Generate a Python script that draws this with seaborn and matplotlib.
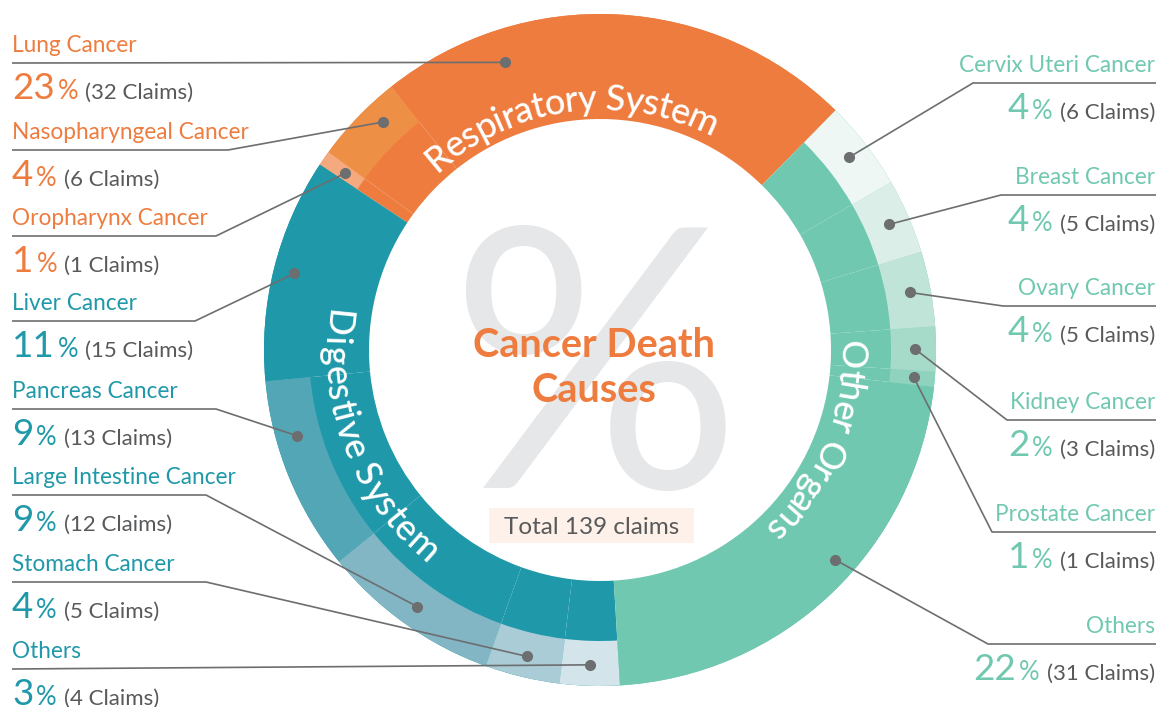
import matplotlib
matplotlib.use("Agg")
import matplotlib.pyplot as plt
from matplotlib.patches import Rectangle
import seaborn as sns
import numpy as np
import pandas as pd

W, H = 1163, 707

# groups (inner colour) and their sub categories (outer shade)
groups = ['Respiratory System', 'Digestive System', 'Other Organs']
group_colors = ['#EE7C3F', '#1F98A9', '#71C8B0']

resp_names = ['Lung Cancer', 'Nasopharyngeal Cancer', 'Oropharynx Cancer']
resp_claims = [32, 6, 1]
resp_shades = ['#EE7C3F', '#EE8F46', '#F4AA7E']

dig_names = ['Liver Cancer', 'Pancreas Cancer', 'Large Intestine Cancer', 'Stomach Cancer', 'Others']
dig_claims = [15, 13, 12, 5, 4]
dig_shades = ['#1F98A9', '#53A6B6', '#82B6C4', '#A9CCD6', '#D3E5EB']

oth_names = ['Others', 'Prostate Cancer', 'Kidney Cancer', 'Ovary Cancer', 'Breast Cancer', 'Cervix Uteri Cancer']
oth_claims = [31, 1, 3, 5, 5, 6]
oth_shades = ['#71C8B0', '#8FD2BE', '#A6DBCA', '#C0E4D7', '#DBEFE8', '#EEF7F3']

rows = []
for g, names, claims, shades in zip(groups, [resp_names, dig_names, oth_names],
                                    [resp_claims, dig_claims, oth_claims],
                                    [resp_shades, dig_shades, oth_shades]):
    for n, c, s in zip(names, claims, shades):
        rows.append([g, n, c, s, group_colors[groups.index(g)]])
df = pd.DataFrame(rows, columns=['group', 'name', 'claims', 'shade', 'gcolor'])
total = df.claims.sum()
df['pct'] = (100 * df.claims / total).round().astype(int)

sns.set_theme(style='white')
plt.rcParams['font.family'] = ['Lato', 'DejaVu Sans']

fig = plt.figure(figsize=(W / 100, H / 100), dpi=100)
ax = fig.add_axes([0, 0, 1, 1])

cx, cy = 600, H - 350
R_out, R_mid, R_in = 336, 291, 231
start = 45.5

inner, _ = ax.pie(df.claims, radius=R_out, center=(cx, cy), startangle=start,
                  counterclock=True, colors=df.gcolor,
                  wedgeprops=dict(width=R_out - R_in, linewidth=0))
outer, _ = ax.pie(df.claims, radius=R_out, center=(cx, cy), startangle=start,
                  counterclock=True, colors=df.shade,
                  wedgeprops=dict(width=R_out - R_mid, linewidth=0))
ax.set_xlim(0, W)
ax.set_ylim(0, H)
ax.set_aspect('auto')
ax.axis('off')

df['mid'] = [(w.theta1 + w.theta2) / 2 for w in outer]

fig.canvas.draw()
renderer = fig.canvas.get_renderer()


def text_w(t):
    return t.get_window_extent(renderer).width


# curved group labels
def arc_text(s, mid_deg, r_base, size, clockwise):
    bar = ax.text(0, 0, '||', fontsize=size, fontweight='medium')
    wbar = text_w(bar)
    bar.remove()
    adv = []
    for ch in s:
        t = ax.text(0, 0, '|' + ch + '|', fontsize=size, fontweight='medium')
        adv.append(text_w(t) - wbar)
        t.remove()
    pos = -sum(adv) / 2
    r_sp = r_base + (13 if clockwise else -13)
    for ch, a in zip(s, adv):
        c = pos + a / 2
        pos += a
        d = np.degrees(c / r_sp)
        if clockwise:
            ang = mid_deg - d
            rot = ang - 90
        else:
            ang = mid_deg + d
            rot = ang + 90
        x = cx + r_base * np.cos(np.radians(ang))
        y = cy + r_base * np.sin(np.radians(ang))
        ax.text(x, y, ch, rotation=rot, rotation_mode='anchor', ha='center',
                va='baseline', fontsize=size, fontweight='medium', color='white', zorder=5)


arc_text('Respiratory System', 97.5, 240, 26, True)
arc_text('Digestive System', 201.3, 276, 26, False)
arc_text('Other Organs', -22.6, 240, 26, True)

# centre
ax.text(596, H - 488, '%', fontsize=262, color='#E6E7E9', ha='center', va='baseline', zorder=1)
ax.text(594, H - 357, 'Cancer Death', fontsize=28.5, fontweight='bold', color='#EE7C3F',
        ha='center', va='baseline', zorder=3)
ax.text(594, H - 402, 'Causes', fontsize=28.5, fontweight='bold', color='#EE7C3F',
        ha='center', va='baseline', zorder=3)
ax.add_patch(Rectangle((489, H - 543), 205, 35, facecolor='#FDF1E9', edgecolor='none', zorder=2))
ax.text(592, H - 534, 'Total %d claims' % total, fontsize=17.5, color='#58595B',
        ha='center', va='baseline', zorder=3)

# callout labels
gray = '#6D6E70'
dot_shift = {'Lung Cancer': 21.4, 'Pancreas Cancer': -6.4, 'Nasopharyngeal Cancer': -2.5}
dot_r = {'Lung Cancer': 303, 'Oropharynx Cancer': 310}

left = df[df.group != 'Other Organs']
left_y = [63, 150, 236, 321, 409, 495, 582, 669]
left_knee = [None, 228, 216, 195, 216, 206, 206, None]
right = df[df.group == 'Other Organs'].iloc[::-1]
right_y = [83, 195, 306, 420, 532, 644]
right_knee = [973, 1001, 1003, 1007, 992, 988]


def dot_xy(row):
    shift = dot_shift.get(row['name'], 0)
    if row['group'] == 'Other Organs' and row['name'] == 'Others':
        shift = 4.7
    ang = np.radians(row['mid'] + shift)
    r = dot_r.get(row['name'], 315)
    return cx + r * np.cos(ang), cy + r * np.sin(ang)


def label(row, ly, knee, side):
    color = row['gcolor']
    y_line = H - ly
    dx, dy = dot_xy(row)
    x0 = 12 if side == 'left' else 1156
    if knee is None:
        xs, ys = [x0, dx], [y_line, dy]
    else:
        xs, ys = [x0, knee, dx], [y_line, y_line, dy]
    ax.plot(xs, ys, color=gray, lw=1.2, zorder=6, solid_capstyle='butt')
    ax.plot(dx, dy, 'o', color=gray, ms=7, zorder=7)

    ha = 'left' if side == 'left' else 'right'
    xt = 12 if side == 'left' else 1155
    ax.text(xt, y_line + 11, row['name'], fontsize=16.3, color=color, ha=ha, va='baseline')
    yb = y_line - 36
    if side == 'left':
        t = ax.text(xt, yb, str(row['pct']), fontsize=26.5, color=color, ha='left', va='baseline')
        x = xt + text_w(t) + 3
        t = ax.text(x, yb, '%', fontsize=18.5, color=color, ha='left', va='baseline')
        x += text_w(t) + 7
        ax.text(x, yb, '(%d Claims)' % row['claims'], fontsize=16, color='#58595B',
                ha='left', va='baseline')
    else:
        t = ax.text(xt, yb, '(%d Claims)' % row['claims'], fontsize=16, color='#58595B',
                    ha='right', va='baseline')
        x = xt - text_w(t) - 7
        t = ax.text(x, yb, '%', fontsize=18.5, color=color, ha='right', va='baseline')
        x -= text_w(t) + 3
        ax.text(x, yb, str(row['pct']), fontsize=26.5, color=color, ha='right', va='baseline')


for (_, row), ly, kn in zip(left.iterrows(), left_y, left_knee):
    label(row, ly, kn, 'left')
for (_, row), ly, kn in zip(right.iterrows(), right_y, right_knee):
    label(row, ly, kn, 'right')

fig.savefig('out.png', dpi=100)
